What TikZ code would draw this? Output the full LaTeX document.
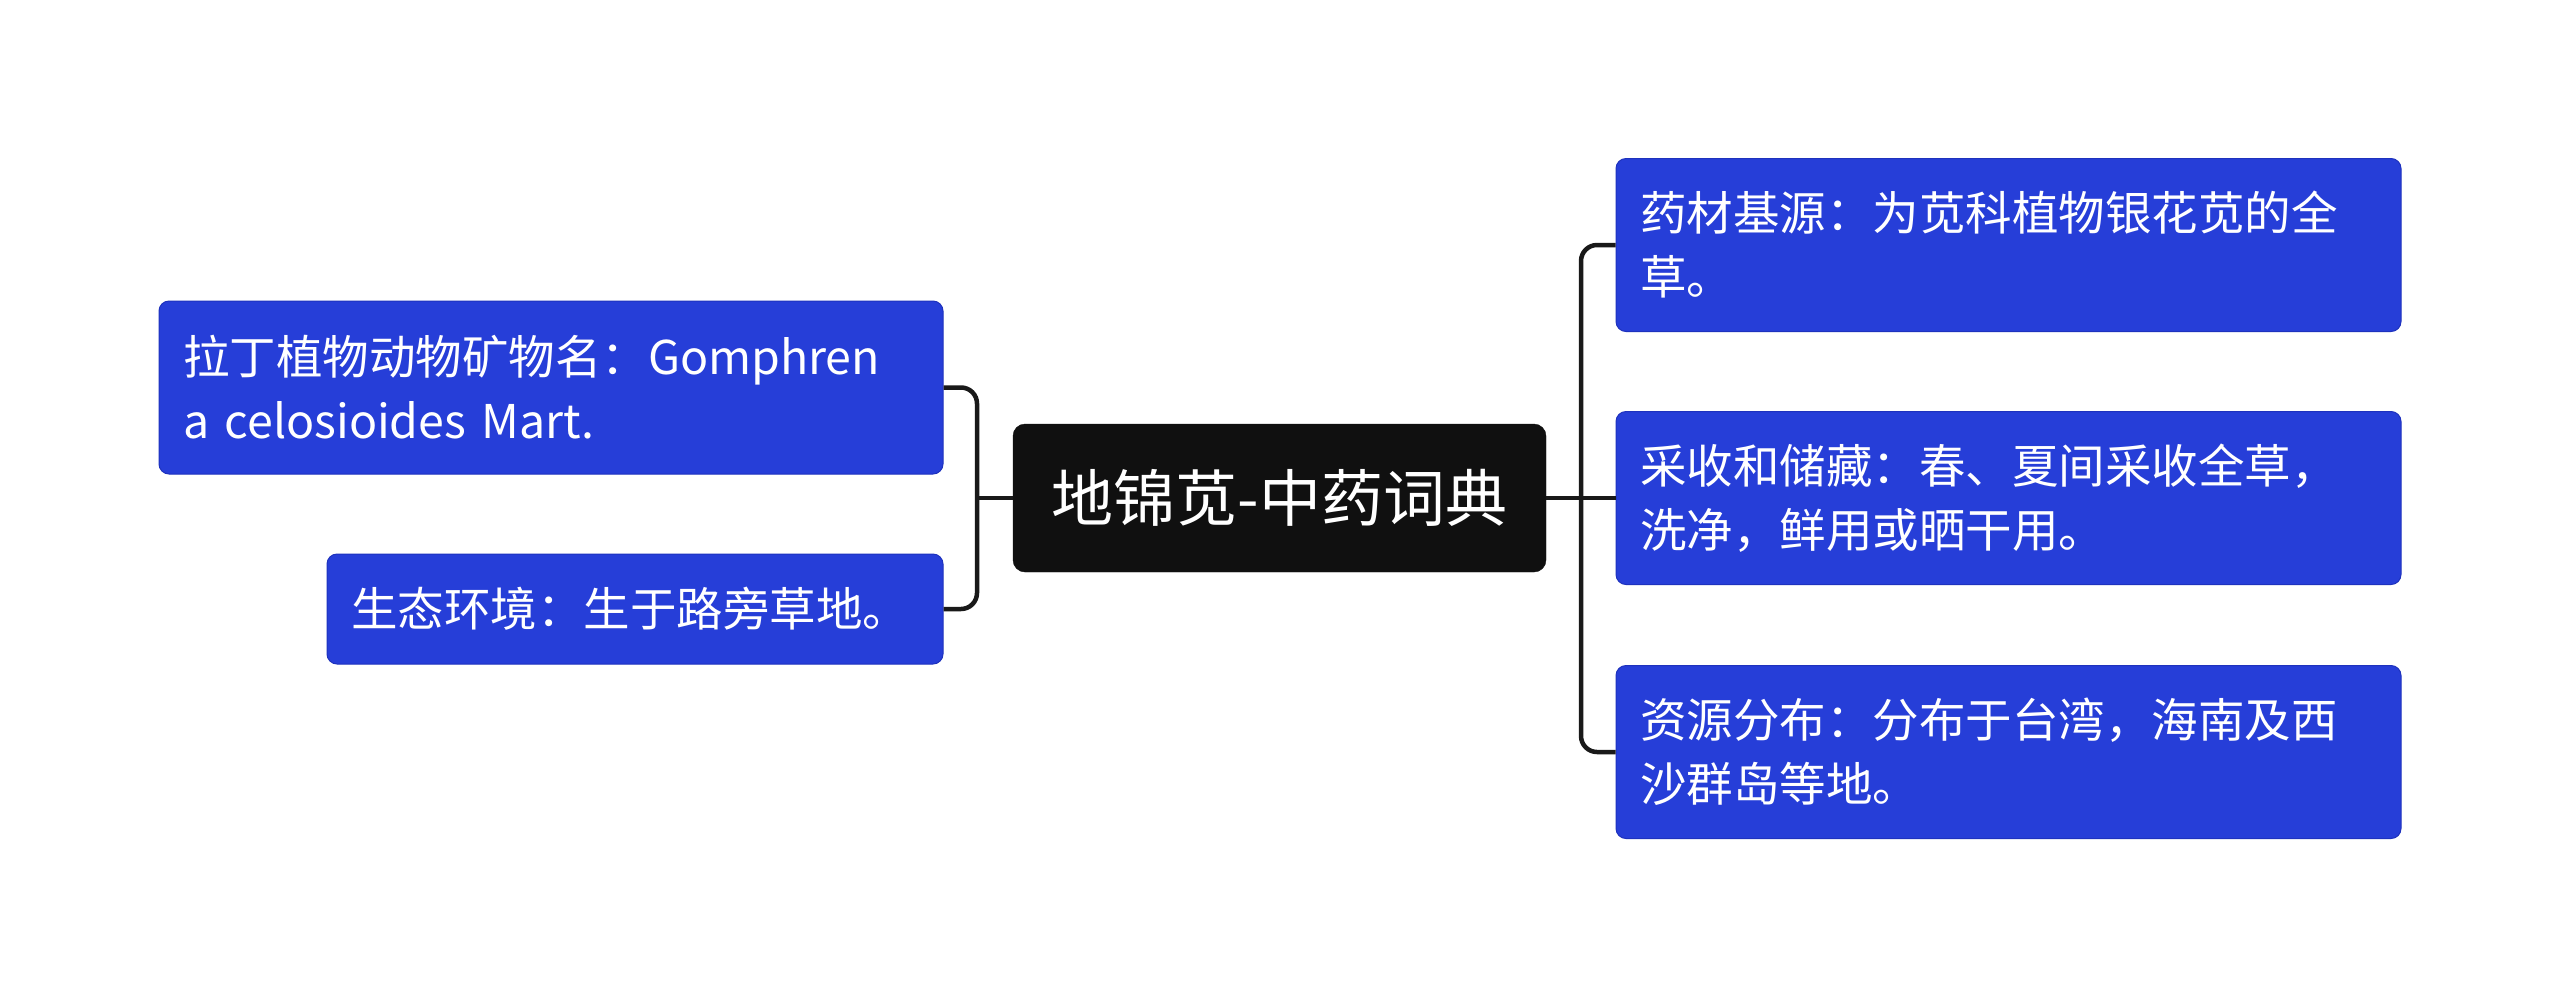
\documentclass[tikz,border=0pt]{standalone}
\usepackage{fontspec}
\setmainfont{Noto Sans CJK SC}
\definecolor{nodeblue}{RGB}{38,62,216}
\definecolor{nodeedge}{RGB}{30,50,190}
\definecolor{centerblack}{RGB}{16,16,16}
\begin{document}
\begin{tikzpicture}[x=1pt,y=-1pt,
  leaf/.style={rectangle, rounded corners=10pt, fill=nodeblue, draw=nodeedge, line width=1pt,
    text=white, align=left, inner xsep=24pt, inner ysep=0pt,
    font=\fontsize{46.5}{64}\selectfont},
  root/.style={rectangle, rounded corners=12pt, fill=centerblack, draw=centerblack,
    text=white, align=center, font=\fontsize{62}{70}\selectfont},
  link/.style={draw=black!90, line width=4.5pt, rounded corners=16pt}]
\useasboundingbox (0,0) rectangle (2560,997);
\fill[white] (0,0) rectangle (2560,997);

\node[root, minimum width=533pt, minimum height=148pt] (c) at (1279.5,498) {地锦苋-中药词典};

\node[leaf, minimum width=784pt, minimum height=173pt, text width=736pt] (l1) at (551,387.5)
  {拉丁植物动物矿物名：Gomphren\\a celosioides Mart.};
\node[leaf, minimum width=616pt, minimum height=110pt, text width=568pt] (l2) at (635,609)
  {生态环境：生于路旁草地。};

\node[leaf, minimum width=785pt, minimum height=173pt, text width=737pt] (r1) at (2008.5,245)
  {药材基源：为苋科植物银花苋的全\\草。};
\node[leaf, minimum width=785pt, minimum height=173pt, text width=737pt] (r2) at (2008.5,498)
  {采收和储藏：春、夏间采收全草，\\洗净，鲜用或晒干用。};
\node[leaf, minimum width=785pt, minimum height=173pt, text width=737pt] (r3) at (2008.5,752)
  {资源分布：分布于台湾，海南及西\\沙群岛等地。};

\coordinate (lj) at (977,498);
\coordinate (rj) at (1581,498);

\draw[link] (l1.east) -| (lj) |- (l2.east);
\draw[link] (c.west) -- (lj);
\draw[link] (r1.west) -| (rj) |- (r3.west);
\draw[link] (c.east) -- (r2.west);
\end{tikzpicture}
\end{document}
